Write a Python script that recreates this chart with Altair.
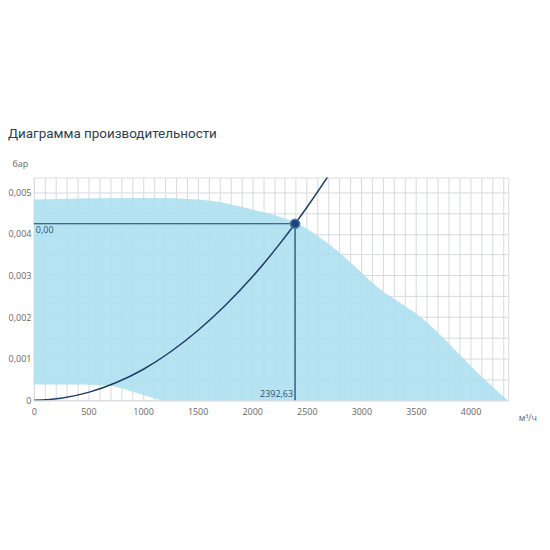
import altair as alt
import pandas as pd

# Performance envelope (fan working area): flow m³/h, upper & lower pressure, bar
env_x = [0, 300, 600, 700, 900, 1100, 1180, 1500, 1800, 2000, 2200, 2432, 2613,
         2795, 2976, 3158, 3339, 3521, 3702, 3884, 4065, 4247, 4340]
env_upper = [0.00482, 0.00484, 0.00485, 0.00486, 0.00486, 0.00486, 0.00486, 0.00482,
             0.00471, 0.00458, 0.00445, 0.00422, 0.00392, 0.00356, 0.00313, 0.00270,
             0.00237, 0.00204, 0.00162, 0.00114, 0.00066, 0.00022, 0.0]
env_lower = [0.00038, 0.00038, 0.00037, 0.00035, 0.00021, 0.00005, 0.0, 0.0, 0.0, 0.0,
             0.0, 0.0, 0.0, 0.0, 0.0, 0.0, 0.0, 0.0, 0.0, 0.0, 0.0, 0.0, 0.0]

# System (network) curve
sys_x = [0, 250, 500, 750, 1000, 1250, 1500, 1750, 2000, 2250, 2392.63, 2500, 2700]
sys_y = [0, 0.00005, 0.00019, 0.00042, 0.00074, 0.00116, 0.00167, 0.00227, 0.00296,
         0.00375, 0.00424, 0.00463, 0.0054]

# Operating point
op_x = [2392.63]
op_y = [0.00424]
op_x_label = ["2392,63"]
op_y_label = ["0,00"]

x_ticks = list(range(0, 4400, 100))
y_ticks = [0, 0.0005, 0.001, 0.0015, 0.002, 0.0025, 0.003, 0.0035, 0.004, 0.0045, 0.005]

X_DOMAIN = [0, 4345]
Y_DOMAIN = [0, 0.00535]

env = pd.DataFrame({"x": env_x, "hi": env_upper, "lo": env_lower})
sysdf = pd.DataFrame({"x": sys_x, "y": sys_y})
op = pd.DataFrame({"x": op_x, "y": op_y, "xl": op_x_label, "yl": op_y_label, "x0": [0], "y0": [0]})

FONT = "Open Sans"
LINE = "#1f3d66"
LEFT = 26
WIDTH = 511 - 8 - LEFT

xscale = alt.Scale(domain=X_DOMAIN, nice=False, zero=False)
yscale = alt.Scale(domain=Y_DOMAIN, nice=False, zero=False)

xaxis = alt.Axis(
    values=x_ticks,
    labelExpr="datum.value % 500 == 0 ? datum.label : ''",
    format="d",
    grid=True, gridColor="#d6d9de", gridWidth=1,
    domain=False, ticks=False,
    labelFontSize=9, labelColor="#666666", labelFont=FONT, labelPadding=7,
    labelOverlap=False, labelBound=False, labelFlush=False,
    title="м³/ч", titleX=WIDTH + 10, titleY=17, titleAngle=0, titleAlign="left",
    titleBaseline="middle", titleFontSize=9, titleFontWeight="normal",
    titleColor="#666666", titleFont=FONT,
)
yaxis = alt.Axis(
    values=y_ticks,
    labelExpr="round(datum.value * 10000) % 10 == 0 ? (datum.value == 0 ? '0' : replace(format(datum.value, '.3f'), '.', ',')) : ''",
    grid=True, gridColor="#d6d9de", gridWidth=1,
    domain=False, ticks=False,
    labelFontSize=9, labelColor="#666666", labelFont=FONT, labelPadding=3,
    labelOverlap=False, labelBound=False, labelFlush=False,
    title="бар", titleX=-LEFT + 4, titleY=-14, titleAngle=0, titleAlign="left",
    titleBaseline="middle", titleFontSize=9, titleFontWeight="normal",
    titleColor="#666666", titleFont=FONT,
)


def X(field):
    return alt.X(f"{field}:Q", scale=xscale, axis=xaxis)


def Y(field):
    return alt.Y(f"{field}:Q", scale=yscale, axis=yaxis)


area = alt.Chart(env).mark_area(color="#abdff0", opacity=0.88, interpolate="monotone").encode(
    x=X("x"), y=Y("hi"), y2="lo:Q",
)

syscurve = alt.Chart(sysdf).mark_line(color=LINE, strokeWidth=1.5, interpolate="monotone", clip=True).encode(
    x=X("x"), y=Y("y"),
)

hline = alt.Chart(op).mark_rule(color=LINE, strokeWidth=1.2).encode(
    x=X("x0"), x2="x:Q", y=Y("y")
)
vline = alt.Chart(op).mark_rule(color=LINE, strokeWidth=1.2).encode(
    x=X("x"), y=Y("y0"), y2="y:Q"
)

point = alt.Chart(op).mark_point(filled=True, size=85, shape="circle", fill="#1d4477",
                                 stroke="#4f7cab", strokeWidth=1.5, opacity=1).encode(
    x=X("x"), y=Y("y")
)

ylab = alt.Chart(op).mark_text(align="left", baseline="top", dx=2, dy=2, fontSize=9,
                               font=FONT, color="#34506f").encode(
    x=X("x0"), y=Y("y"), text="yl:N"
)
xlab = alt.Chart(op).mark_text(align="right", baseline="bottom", dx=-2, dy=-1, fontSize=9,
                               font=FONT, color="#34506f").encode(
    x=X("x"), y=Y("y0"), text="xl:N"
)

chart = alt.layer(area, syscurve, hline, vline, point, ylab, xlab).properties(
    width=WIDTH, height=224,
    title=alt.TitleParams(
        "Диаграмма производительности", anchor="start", frame="group",
        dx=-LEFT, offset=19, fontSize=13.5, fontWeight="normal", font="Roboto", color="#2c3e55",
    ),
    autosize=alt.AutoSizeParams(type="none"),
    padding={"left": LEFT, "top": 169, "right": 34, "bottom": 140},
).configure_view(
    fill="#f4f5f7", stroke="#d6d9de", strokeWidth=1,
).configure(background="white")

chart.save("out.html", embed_options={"renderer": "svg", "actions": False})
